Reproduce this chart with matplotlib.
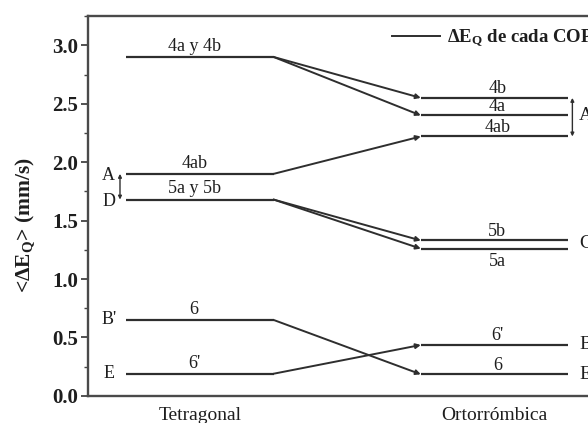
import matplotlib
matplotlib.use("Agg")
import matplotlib.pyplot as plt
from matplotlib.lines import Line2D
from matplotlib.ticker import MultipleLocator

plt.rcParams["font.family"] = ["Liberation Serif", "DejaVu Serif"]
plt.rcParams["mathtext.default"] = "regular"

# Quadrupole splitting levels per phase
phases = ["Tetragonal", "Ortorrómbica"]
tetra_labels = ["4a y 4b", "4ab", "5a y 5b", "6", "6'"]
tetra_values = [2.90, 1.90, 1.68, 0.65, 0.19]
orto_labels = ["4b", "4a", "4ab", "5b", "5a", "6'", "6"]
orto_values = [2.55, 2.40, 2.22, 1.33, 1.26, 0.436, 0.185]
# (tetragonal index, orthorhombic index) correlations
links = [(0, 0), (0, 1), (1, 2), (2, 3), (2, 4), (3, 6), (4, 5)]
# Group letters beside the levels
tetra_groups = [("A", 1.89), ("D", 1.66), ("B'", 0.65), ("E", 0.19)]
orto_groups = [("A'", 2.40), ("C", 1.30), ("B", 0.436), ("E'", 0.185)]

line_c = "#2e2e2e"
text_c = "#1e1e1e"
half = 0.25

fig = plt.figure(figsize=(5.88, 4.23), dpi=100)
ax = fig.add_axes([0.15, 0.064, 0.881, 0.898])
ax.set_xlim(0.62, 2.38)
ax.set_ylim(0, 3.25)

x_t, x_o = 1.0, 2.0
for lab, v in zip(tetra_labels, tetra_values):
    ax.plot([x_t - half, x_t + half], [v, v], color=line_c, lw=1.6,
            solid_capstyle="butt")
    ax.annotate(lab, (x_t - 0.02, v), xytext=(0, 1.5), textcoords="offset points",
                ha="center", va="bottom", fontsize=13, color=text_c)

for lab, v in zip(orto_labels, orto_values):
    ax.plot([x_o - half, x_o + half], [v, v], color=line_c, lw=1.6,
            solid_capstyle="butt")
    below = lab == "5a"
    ax.annotate(lab, (x_o + 0.01, v), xytext=(0, -3 if below else 0.5),
                textcoords="offset points", ha="center",
                va="top" if below else "bottom", fontsize=13, color=text_c)

for i, j in links:
    ax.annotate("", xy=(x_o - half, orto_values[j]),
                xytext=(x_t + half, tetra_values[i]),
                arrowprops=dict(arrowstyle="-|>", mutation_scale=7, lw=1.4,
                                color=line_c, shrinkA=0, shrinkB=0))

for lab, v in tetra_groups:
    ax.text(0.69, v, lab, ha="center", va="center", fontsize=13, color=text_c)
ax.annotate("", xy=(0.728, 1.68), xytext=(0.728, 1.90),
            arrowprops=dict(arrowstyle="<|-|>", mutation_scale=5, lw=1.0,
                            color=line_c, shrinkA=0, shrinkB=0))

for lab, v in orto_groups:
    ax.text(2.288, v, lab, ha="left", va="center", fontsize=14, color=text_c)
ax.annotate("", xy=(2.265, 2.22), xytext=(2.265, 2.55),
            arrowprops=dict(arrowstyle="<|-|>", mutation_scale=5, lw=1.0,
                            color=line_c, shrinkA=0, shrinkB=0))

handle = Line2D([], [], color=line_c, lw=1.4)
ax.legend([handle], ["ΔE$_Q$ de cada COP"], loc="upper left",
          bbox_to_anchor=(0.572, 0.99), frameon=False, handlelength=2.55,
          handletextpad=0.4, prop=dict(size=13.5, weight="bold"),
          labelcolor=text_c, borderaxespad=0)

ax.set_xticks([x_t, x_o])
ax.set_xticklabels(phases, fontsize=14, color=text_c)
ax.tick_params(axis="x", length=0, pad=8)
ax.yaxis.set_major_locator(MultipleLocator(0.5))
ax.yaxis.set_minor_locator(MultipleLocator(0.25))
ax.set_yticks([0.0, 0.5, 1.0, 1.5, 2.0, 2.5, 3.0])
ax.set_yticklabels(["0.0", "0.5", "1.0", "1.5", "2.0", "2.5", "3.0"],
                   fontsize=15, fontweight="bold", color=text_c)
ax.tick_params(axis="y", which="major", direction="out", length=5, width=1.3,
               color="#444444", pad=2)
ax.tick_params(axis="y", which="minor", direction="out", length=3, width=1.0,
               color="#444444")
ax.set_ylabel("<ΔE$_Q$> (mm/s)", fontsize=15.5, fontweight="bold",
              color=text_c)
ax.yaxis.set_label_coords(-0.100, 0.45)

for s in ax.spines.values():
    s.set_linewidth(1.7)
    s.set_color("#4a4a4a")

fig.savefig("out.png", dpi=100)
